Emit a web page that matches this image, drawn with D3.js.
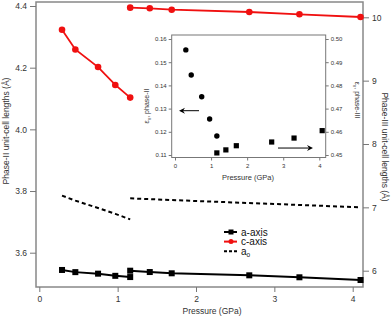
<!DOCTYPE html>
<html>
<head>
<meta charset="utf-8">
<script src="https://cdn.jsdelivr.net/npm/d3@7"></script>
<style>
  body { margin: 0; background: #fff; }
  svg { font-family: "Liberation Sans", Arial, sans-serif; }
  .axis text { fill: #333; }
  .axis line { stroke: #777; }
</style>
</head>
<body>
<div class="chart"></div>
<script>
// phase II (left axis)
const pII = [0.29, 0.46, 0.75, 0.97, 1.16];
const cII = [4.323, 4.259, 4.202, 4.144, 4.103];
const aII = [3.544, 3.537, 3.532, 3.525, 3.521];
const a0II = [3.785, 3.769, 3.745, 3.726, 3.708];
// phase III (right axis)
const pIII = [1.16, 1.41, 1.69, 2.68, 3.32, 4.10];
const cIII = [10.152, 10.142, 10.120, 10.084, 10.047, 10.005];
const aIII = [6.0, 5.979, 5.959, 5.927, 5.896, 5.853];
const a0III = [7.142, 7.130, 7.115, 7.068, 7.038, 7.0];
// inset: volume strain
const pEpsII = [0.30, 0.45, 0.74, 0.96, 1.16];
const epsII = [0.1553, 0.1445, 0.1351, 0.1255, 0.1182];
const pEpsIII = [1.16, 1.41, 1.70, 2.68, 3.30, 4.08];
const epsIII = [0.4509, 0.4522, 0.4540, 0.4556, 0.4573, 0.4605];

const xTicks = [0, 1, 2, 3, 4];
const leftTicks = [3.6, 3.8, 4.0, 4.2, 4.4];
const rightTicks = [6, 7, 8, 9, 10];
const insetLeftTicks = [0.11, 0.12, 0.13, 0.14, 0.15, 0.16];
const insetRightTicks = [0.45, 0.46, 0.47, 0.48, 0.49, 0.50];

const RED = "#f01010";
const W = 392, H = 317;
const box = { left: 36, right: 363, top: 2, bottom: 287 };

const svg = d3.select(".chart").append("svg")
  .attr("width", W).attr("height", H);

const x = d3.scaleLinear().domain([0, 4]).range([39.3, 352.7]);
const yL = d3.scaleLinear().domain([3.6, 4.4]).range([252.7, 6]);
const yR = d3.scaleLinear().domain([6, 10]).range([270.7, 17.3]);

// frame
svg.append("rect")
  .attr("x", box.left).attr("y", box.top)
  .attr("width", box.right - box.left).attr("height", box.bottom - box.top)
  .attr("fill", "none").attr("stroke", "#888").attr("stroke-width", 1.5);

function styleAxis(g, size) {
  g.attr("class", "axis").style("font-size", size + "px");
  g.select(".domain").remove();
}

svg.append("g").attr("transform", `translate(0,${box.bottom})`)
  .call(d3.axisBottom(x).tickValues(xTicks).tickFormat(d3.format("d")).tickSize(5).tickPadding(4))
  .call(g => styleAxis(g, 8.5));
svg.append("g").attr("transform", `translate(${box.left},0)`)
  .call(d3.axisLeft(yL).tickValues(leftTicks).tickFormat(d3.format(".1f")).tickSize(6).tickPadding(3))
  .call(g => styleAxis(g, 8.5));
svg.append("g").attr("transform", `translate(${box.right},0)`)
  .call(d3.axisRight(yR).tickValues(rightTicks).tickFormat(d3.format("d")).tickSize(6).tickPadding(3))
  .call(g => styleAxis(g, 8.5));

// axis titles
svg.append("text").attr("transform", `translate(9,131) rotate(-90)`)
  .attr("text-anchor", "middle").style("font-size", "8.5px").attr("fill", "#333")
  .text("Phase-II unit-cell lengths (Å)");
svg.append("text").attr("transform", `translate(382,147) rotate(90)`)
  .attr("text-anchor", "middle").style("font-size", "8.5px").attr("fill", "#333")
  .text("Phase-III unit-cell lengths (Å)");
svg.append("text").attr("x", 212).attr("y", 314)
  .attr("text-anchor", "middle").style("font-size", "8.5px").attr("fill", "#333")
  .text("Pressure (GPa)");

function series(p, v, ys, color, marker, dash, lw) {
  const pts = p.map((d, i) => [d, v[i]]);
  const line = d3.line().x(d => x(d[0])).y(d => ys(d[1]));
  svg.append("path").datum(pts).attr("d", line)
    .attr("fill", "none").attr("stroke", color).attr("stroke-width", lw)
    .attr("stroke-dasharray", dash ? "4,3" : null);
  if (marker === "circle") {
    svg.selectAll(null).data(pts).enter().append("circle")
      .attr("cx", d => x(d[0])).attr("cy", d => ys(d[1])).attr("r", 3.3)
      .attr("fill", color);
  } else if (marker === "square") {
    svg.selectAll(null).data(pts).enter().append("rect")
      .attr("x", d => x(d[0]) - 3).attr("y", d => ys(d[1]) - 3)
      .attr("width", 6).attr("height", 6).attr("fill", color);
  }
}

series(pII, a0II, yL, "#000", null, true, 2);
series(pIII, a0III, yR, "#000", null, true, 2);
series(pII, cII, yL, RED, "circle", false, 1.8);
series(pIII, cIII, yR, RED, "circle", false, 1.8);
series(pII, aII, yL, "#000", "square", false, 2);
series(pIII, aIII, yR, "#000", "square", false, 2);

// legend
const legend = svg.append("g").attr("transform", "translate(224,232)");
const legItems = [
  { label: "a-axis", color: "#000", marker: "square" },
  { label: "c-axis", color: RED, marker: "circle" },
  { label: "a", sub: "o", color: "#000", marker: null }
];
legItems.forEach((d, i) => {
  const g = legend.append("g").attr("transform", `translate(0,${i * 9.6})`);
  g.append("line").attr("x1", 0).attr("x2", 13).attr("y1", 0).attr("y2", 0)
    .attr("stroke", d.color).attr("stroke-width", 2)
    .attr("stroke-dasharray", d.marker ? null : "3,2");
  if (d.marker === "square")
    g.append("rect").attr("x", 4.5).attr("y", -2.5).attr("width", 5).attr("height", 5).attr("fill", d.color);
  if (d.marker === "circle")
    g.append("circle").attr("cx", 7).attr("cy", 0).attr("r", 2.5).attr("fill", d.color);
  const t = g.append("text").attr("x", 17).attr("y", 3.5).style("font-size", "10px").attr("fill", "#111")
    .text(d.label);
  if (d.sub) t.append("tspan").attr("dy", 2.5).style("font-size", "6.5px").text(d.sub);
});

// inset
const ib = { left: 171.7, right: 325.7, top: 35, bottom: 157.5 };
const ix = d3.scaleLinear().domain([0, 4]).range([175, 319.3]);
const iyL = d3.scaleLinear().domain([0.11, 0.16]).range([155, 39]);
const iyR = d3.scaleLinear().domain([0.45, 0.50]).range([155, 39]);
const inset = svg.append("g");

inset.append("rect")
  .attr("x", ib.left).attr("y", ib.top)
  .attr("width", ib.right - ib.left).attr("height", ib.bottom - ib.top)
  .attr("fill", "#fff").attr("stroke", "#777").attr("stroke-width", 1);

inset.append("g").attr("transform", `translate(0,${ib.bottom})`)
  .call(d3.axisBottom(ix).tickValues(xTicks).tickFormat(d3.format("d")).tickSize(3).tickPadding(3))
  .call(g => styleAxis(g, 6));
inset.append("g").attr("transform", `translate(${ib.left},0)`)
  .call(d3.axisLeft(iyL).tickValues(insetLeftTicks).tickFormat(d3.format(".2f")).tickSize(3).tickPadding(2))
  .call(g => styleAxis(g, 6));
inset.append("g").attr("transform", `translate(${ib.right},0)`)
  .call(d3.axisRight(iyR).tickValues(insetRightTicks).tickFormat(d3.format(".2f")).tickSize(3).tickPadding(2))
  .call(g => styleAxis(g, 6));

const lblL = inset.append("text").attr("transform", "translate(149,106) rotate(-90)")
  .attr("text-anchor", "middle").style("font-size", "7px").attr("fill", "#333");
lblL.append("tspan").text("ε");
lblL.append("tspan").attr("dy", 2).style("font-size", "5px").text("v");
lblL.append("tspan").attr("dy", -2).text(", phase-II");
const lblR = inset.append("text").attr("transform", "translate(355,100) rotate(90)")
  .attr("text-anchor", "middle").style("font-size", "7px").attr("fill", "#333");
lblR.append("tspan").text("ε");
lblR.append("tspan").attr("dy", 2).style("font-size", "5px").text("v");
lblR.append("tspan").attr("dy", -2).text(", phase-III");
inset.append("text").attr("x", 248).attr("y", 180).attr("text-anchor", "middle")
  .style("font-size", "7.5px").attr("fill", "#333").text("Pressure (GPa)");

inset.selectAll(null).data(pEpsII.map((d, i) => [d, epsII[i]])).enter().append("circle")
  .attr("cx", d => ix(d[0])).attr("cy", d => iyL(d[1])).attr("r", 2.7).attr("fill", "#000");
inset.selectAll(null).data(pEpsIII.map((d, i) => [d, epsIII[i]])).enter().append("rect")
  .attr("x", d => ix(d[0]) - 2.6).attr("y", d => iyR(d[1]) - 2.6)
  .attr("width", 5.2).attr("height", 5.2).attr("fill", "#000");

// arrows pointing at the axis each series belongs to
function arrow(x1, x2, y) {
  const dir = Math.sign(x2 - x1);
  inset.append("line").attr("x1", x1).attr("x2", x2 - dir * 2).attr("y1", y).attr("y2", y)
    .attr("stroke", "#000").attr("stroke-width", 1);
  inset.append("path")
    .attr("d", `M${x2},${y} L${x2 - dir * 6},${y - 3} L${x2 - dir * 4},${y} L${x2 - dir * 6},${y + 3} Z`)
    .attr("fill", "#000");
}
arrow(199, 179, iyL(0.1291));
arrow(278, 313, iyR(0.4530));
</script>
</body>
</html>
